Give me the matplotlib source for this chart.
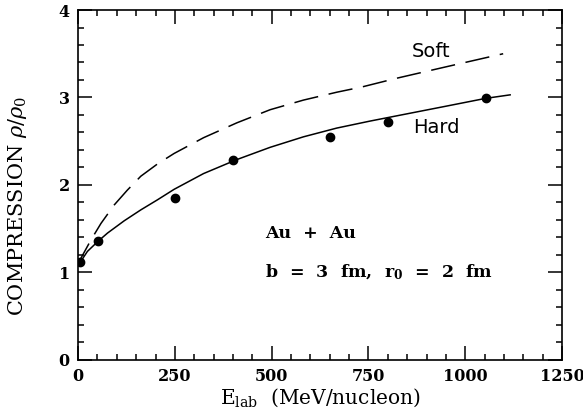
import numpy as np
import matplotlib.pyplot as plt
from matplotlib.ticker import MultipleLocator

plt.rcParams['mathtext.fontset'] = 'dejavuserif'

# Measured compression points (Au + Au)
e_data = [5, 52, 250, 401, 651, 800, 1053]
rho_data = [1.12, 1.36, 1.85, 2.28, 2.55, 2.72, 2.99]

# Hard EOS curve
e_hard = [0, 24, 50, 76, 119, 162, 205, 248, 324, 410, 496, 582, 668, 754, 823, 950, 1053, 1116]
rho_hard = [1.08, 1.24, 1.35, 1.45, 1.59, 1.715, 1.83, 1.95, 2.13, 2.29, 2.43, 2.55, 2.65,
            2.73, 2.79, 2.90, 2.99, 3.03]

# Soft EOS curve
e_soft = [0, 7, 33, 59, 93, 127, 162, 205, 248, 324, 410, 496, 582, 668, 733, 823, 950, 1098]
rho_soft = [1.08, 1.16, 1.37, 1.56, 1.77, 1.94, 2.10, 2.24, 2.36, 2.54, 2.71, 2.86, 2.97,
            3.06, 3.12, 3.22, 3.35, 3.50]

fig = plt.figure(figsize=(5.83, 4.17), dpi=100)
ax = fig.add_axes([0.134, 0.137, 0.830, 0.839])

ax.plot(e_hard, rho_hard, color='black', lw=1.1)
ax.plot(e_soft, rho_soft, color='black', lw=1.1, dashes=(16, 7))
ax.plot(e_data, rho_data, 'o', color='black', ms=6)

ax.set_xlim(0, 1250)
ax.set_ylim(0, 4)
ax.xaxis.set_major_locator(MultipleLocator(250))
ax.xaxis.set_minor_locator(MultipleLocator(50))
ax.yaxis.set_major_locator(MultipleLocator(1))
ax.yaxis.set_minor_locator(MultipleLocator(0.2))
ax.tick_params(which='both', direction='in', top=True, right=True, width=1.1)
ax.tick_params(which='major', length=10, pad=6)
ax.tick_params(which='minor', length=4)
for s in ax.spines.values():
    s.set_linewidth(1.2)

for lab in ax.get_xticklabels() + ax.get_yticklabels():
    lab.set_fontfamily('DejaVu Serif')
    lab.set_fontweight('bold')
    lab.set_fontsize(11.5)

ax.set_xlabel(r'E$_{\rm lab}$  (MeV/nucleon)', family='DejaVu Serif', fontsize=14.5)
ax.set_ylabel(r'COMPRESSION $\rho/\rho_0$', family='DejaVu Serif', fontsize=15)
ax.xaxis.set_label_coords(0.5, -0.075)
ax.yaxis.set_label_coords(-0.102, 0.44)

ax.text(912, 3.53, 'Soft', fontsize=14, ha='center', va='center')
ax.text(925, 2.66, 'Hard', fontsize=14, ha='center', va='center')
ax.text(483, 1.45, 'Au  +  Au', family='DejaVu Serif', fontweight='bold', fontsize=12.5, va='center')
ax.text(483, 1.0, r'b  =  3  fm,  r$_{\bf 0}$  =  2  fm', family='DejaVu Serif', fontweight='bold',
        fontsize=12.5, va='center')

fig.savefig('out.png', dpi=100)
